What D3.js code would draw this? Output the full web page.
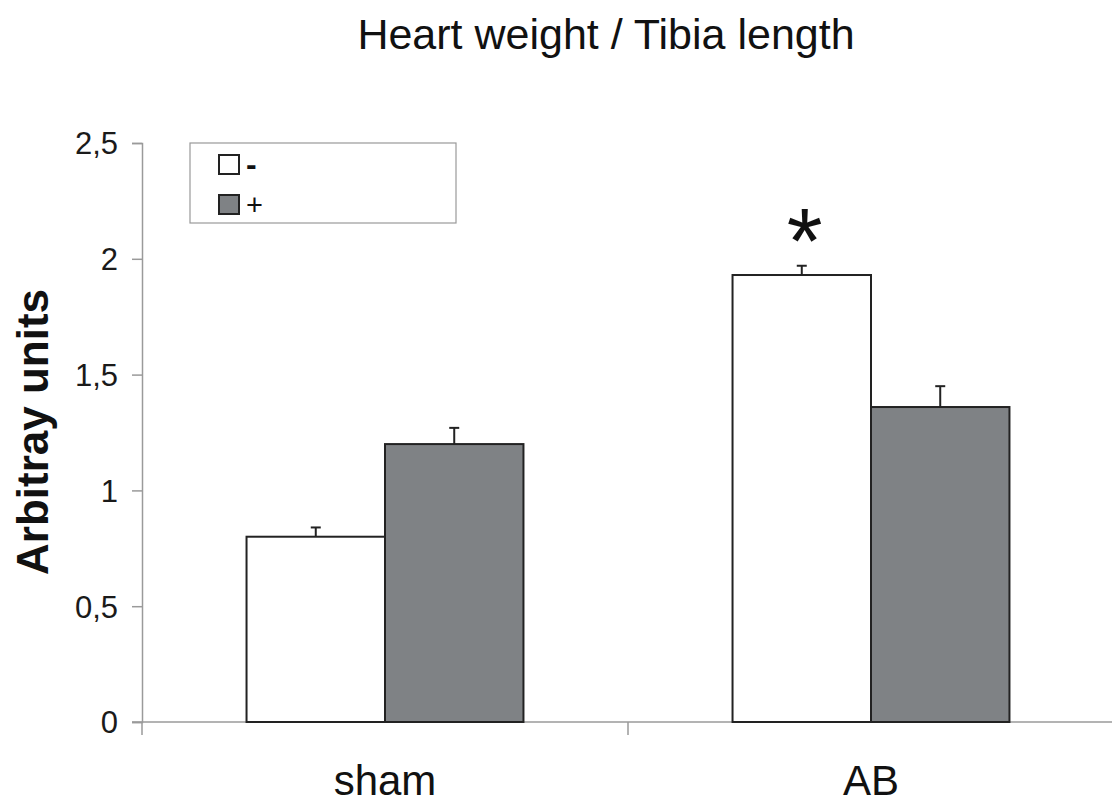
<!DOCTYPE html>
<html>
<head>
<meta charset="utf-8">
<script src="https://cdn.jsdelivr.net/npm/d3@7"></script>
<style>
  html, body { margin: 0; padding: 0; background: #fff; }
  svg { display: block; font-family: Arial, "Liberation Sans", sans-serif; }
</style>
</head>
<body>
<svg id="chart" width="1112" height="800"></svg>
<script>
// Groups on the x axis and treatment series
const categories = ["sham", "AB"];
const seriesNames = ["-", "+"];
const seriesColors = ["#ffffff", "#7f8285"];
// Mean values per series (one entry per category)
const meanMinus = [0.80, 1.93];
const meanPlus = [1.20, 1.36];
// Upper error (mean + SEM) per series
const errTopMinus = [0.84, 1.97];
const errTopPlus = [1.27, 1.45];
// Y axis ticks
const yTicks = [0, 0.5, 1, 1.5, 2, 2.5];
// Significance marks: [category, series index]
const significance = [["AB", 0]];

const svg = d3.select("#chart");
const W = 1112, H = 800;
const plotLeft = 142, plotRight = 1114, plotTop = 143, plotBottom = 722;

const x = d3.scaleBand().domain(categories).range([plotLeft, plotRight]).paddingInner(0).paddingOuter(0);
const xSub = d3.scaleBand().domain(d3.range(seriesNames.length)).range([0, x.bandwidth()]).paddingInner(0).paddingOuter(0.755);
const y = d3.scaleLinear().domain([0, 2.5]).range([plotBottom, plotTop]);

const fmt = v => String(v).replace(".", ",");

// Title
svg.append("text").attr("x", 606).attr("y", 49).attr("text-anchor", "middle")
  .attr("font-size", 43).attr("fill", "#111").text("Heart weight / Tibia length");

// Y axis
const yAxis = svg.append("g").attr("transform", `translate(${plotLeft},0)`)
  .call(d3.axisLeft(y).tickValues(yTicks).tickSize(10).tickPadding(14).tickFormat(fmt));
yAxis.select(".domain").attr("stroke", "#9a9a9a").attr("stroke-width", 1.5);
yAxis.selectAll(".tick line").attr("stroke", "#9a9a9a").attr("stroke-width", 1.5);
yAxis.selectAll(".tick text").attr("font-size", 31).attr("fill", "#1a1a1a")
  .attr("font-family", "Arial, 'Liberation Sans', sans-serif").attr("dy", "0.35em");

// X axis
const xAxisG = svg.append("g").attr("transform", `translate(0,${plotBottom})`);
xAxisG.append("line").attr("x1", plotLeft - 10).attr("x2", W).attr("y1", 0).attr("y2", 0)
  .attr("stroke", "#9a9a9a").attr("stroke-width", 1.5);
const boundaries = [plotLeft].concat(categories.map(c => x(c) + x.bandwidth()));
xAxisG.selectAll("line.sep").data(boundaries).join("line").attr("class", "sep")
  .attr("x1", d => d).attr("x2", d => d).attr("y1", 0).attr("y2", 13)
  .attr("stroke", "#9a9a9a").attr("stroke-width", 1.5);
xAxisG.selectAll("text").data(categories).join("text")
  .attr("x", d => x(d) + x.bandwidth() / 2).attr("y", 73)
  .attr("text-anchor", "middle").attr("font-size", 42).attr("fill", "#111").text(d => d);

// Y axis title
svg.append("text").attr("transform", `translate(48,432) rotate(-90)`)
  .attr("text-anchor", "middle").attr("font-size", 44).attr("font-weight", "bold")
  .attr("fill", "#111").text("Arbitray units");

// Bars
const means = [meanMinus, meanPlus];
const errTops = [errTopMinus, errTopPlus];
const barData = [];
categories.forEach((c, ci) => {
  seriesNames.forEach((s, si) => {
    barData.push({ cat: c, si, value: means[si][ci], err: errTops[si][ci] });
  });
});

const bars = svg.append("g");
// error bars first so the bar outline sits on top
bars.selectAll("g.err").data(barData).join("g").attr("class", "err").each(function(d) {
  const cx = x(d.cat) + xSub(d.si) + xSub.bandwidth() / 2;
  const g = d3.select(this);
  g.append("line").attr("x1", cx).attr("x2", cx).attr("y1", y(d.value)).attr("y2", y(d.err))
    .attr("stroke", "#222").attr("stroke-width", 2);
  g.append("line").attr("x1", cx - 5).attr("x2", cx + 5).attr("y1", y(d.err)).attr("y2", y(d.err))
    .attr("stroke", "#222").attr("stroke-width", 2);
});
bars.selectAll("rect").data(barData).join("rect")
  .attr("x", d => x(d.cat) + xSub(d.si))
  .attr("y", d => y(d.value))
  .attr("width", xSub.bandwidth())
  .attr("height", d => y(0) - y(d.value))
  .attr("fill", d => seriesColors[d.si])
  .attr("stroke", "#222").attr("stroke-width", 2);

// Significance asterisk
significance.forEach(([c, si]) => {
  const cx = x(c) + xSub(si) + xSub.bandwidth() / 2 + 3;
  const errY = y(errTops[si][categories.indexOf(c)]);
  svg.append("text").attr("x", cx).attr("y", errY + 7).attr("text-anchor", "middle")
    .attr("font-size", 92).attr("fill", "#111").text("*");
});

// Legend
const lg = svg.append("g");
lg.append("rect").attr("x", 190).attr("y", 143).attr("width", 266).attr("height", 80)
  .attr("fill", "#fff").attr("stroke", "#999").attr("stroke-width", 1.2);
seriesNames.forEach((s, i) => {
  const yy = 155 + i * 40;
  lg.append("rect").attr("x", 219).attr("y", yy).attr("width", 20).attr("height", 19)
    .attr("fill", seriesColors[i]).attr("stroke", "#222").attr("stroke-width", 2);
  lg.append("text").attr("x", 246).attr("y", yy + 20)
    .attr("font-size", i === 0 ? 32 : 29)
    .attr("font-weight", i === 0 ? "bold" : "normal")
    .attr("fill", "#111").text(s);
});
</script>
</body>
</html>
